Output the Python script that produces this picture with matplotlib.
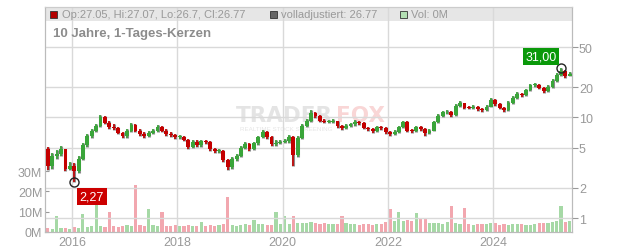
import numpy as np
import pandas as pd
import matplotlib
matplotlib.use("Agg")
import matplotlib.pyplot as plt
from matplotlib.patches import Rectangle

plt.rcParams["font.family"] = ["Liberation Sans", "DejaVu Sans"]

# monthly candles, Jul 2015 .. Jun 2025
first_open = 4.9
closes = [3.3, 4.1, 4.3, 4.8, 3.1, 3.3, 2.9, 3.9, 5.3, 6.5,
          7.3, 8.2, 10.0, 8.8, 8.0, 7.8, 7.0, 6.5, 7.3, 8.4,
          7.4, 6.8, 6.6, 7.0, 7.3, 8.0, 7.4, 6.8, 6.7, 6.4,
          6.4, 6.0, 5.1, 5.7, 5.3, 5.8, 5.7, 4.8, 4.6, 4.6,
          3.8, 3.2, 3.85, 4.1, 5.0, 5.4, 4.8, 5.5, 6.4, 7.2,
          6.4, 5.4, 5.6, 5.7, 5.8, 6.4, 4.2, 6.3, 8.2, 9.2,
          11.0, 10.3, 9.3, 9.0, 9.0, 9.2, 8.2, 7.8, 8.2, 8.5,
          9.0, 8.7, 7.9, 7.6, 7.3, 8.0, 7.8, 7.2, 6.9, 7.2,
          8.0, 9.0, 7.4, 7.3, 8.0, 7.6, 7.0, 7.4, 9.0, 10.3,
          11.2, 11.4, 10.5, 13.0, 13.8, 12.5, 12.4, 12.6, 12.0, 11.8,
          12.8, 15.0, 13.6, 12.5, 11.8, 14.0, 15.5, 17.0, 16.5, 18.5,
          20.8, 21.0, 19.8, 18.4, 20.0, 23.0, 26.5, 29.0, 26.0, 26.8]

highs = [5.1, 4.4, 4.7, 5.2, 4.9, 3.6, 3.5, 4.1, 5.5, 6.8,
         7.7, 8.6, 10.6, 10.3, 9.2, 8.5, 8.0, 7.2, 7.6, 8.8,
         8.6, 7.6, 7.1, 7.3, 7.6, 8.4, 8.2, 7.6, 7.1, 6.9,
         6.7, 6.6, 6.1, 5.9, 5.9, 6.0, 6.0, 5.8, 5.0, 4.9,
         4.7, 3.9, 4.0, 4.3, 5.2, 5.7, 5.6, 5.7, 6.6, 7.5,
         7.4, 6.5, 5.9, 6.0, 6.1, 6.7, 6.5, 6.5, 8.5, 9.6,
         11.7, 11.3, 10.5, 9.6, 9.4, 9.6, 9.3, 8.4, 8.5, 8.8,
         9.4, 9.3, 8.9, 8.1, 7.8, 8.3, 8.3, 8.0, 7.4, 7.5,
         8.3, 9.3, 9.1, 7.7, 8.3, 8.2, 7.8, 7.7, 9.3, 10.7,
         11.6, 11.9, 11.6, 13.5, 14.5, 14.0, 13.0, 13.2, 12.9, 12.4,
         13.3, 15.6, 15.2, 13.9, 12.8, 14.5, 16.2, 17.7, 17.5, 19.2,
         21.6, 22.0, 21.3, 20.1, 20.8, 23.8, 27.5, 31.0, 29.3, 28.2]

lows = [3.0, 3.1, 3.9, 4.1, 2.9, 3.0, 2.27, 2.8, 3.8, 5.1,
        6.3, 7.1, 8.0, 8.5, 7.7, 7.5, 6.8, 6.2, 6.3, 7.1,
        7.1, 6.6, 6.3, 6.4, 6.8, 7.1, 7.1, 6.5, 6.4, 6.1,
        6.1, 5.8, 4.9, 5.0, 5.1, 5.1, 5.4, 4.6, 4.4, 4.4,
        3.6, 3.0, 3.1, 3.7, 4.0, 4.8, 4.6, 4.7, 5.3, 6.2,
        6.1, 5.2, 5.2, 5.4, 5.5, 5.6, 3.3, 4.0, 6.1, 8.0,
        9.0, 9.9, 9.0, 8.7, 8.7, 8.8, 7.9, 7.5, 7.6, 8.0,
        8.3, 8.4, 7.6, 7.3, 7.0, 7.1, 7.5, 6.9, 6.6, 6.7,
        7.0, 7.8, 7.2, 7.0, 7.1, 7.3, 6.6, 6.8, 7.3, 8.8,
        10.0, 10.9, 10.1, 10.3, 12.7, 12.1, 12.0, 12.0, 11.6, 11.3,
        11.5, 12.6, 13.1, 12.1, 11.3, 11.6, 13.7, 15.2, 16.0, 16.2,
        18.2, 20.2, 19.1, 17.6, 18.0, 19.7, 22.6, 25.8, 24.5, 25.5]

# volume in millions per bar
volumes = [1.8, 1.5, 7.7, 1.8, 2.1, 1.6, 2.4, 2.2, 8.9, 2.6,
           2.9, 19.7, 3.2, 2.7, 10.0, 2.9, 2.6, 3.2, 3.4, 3.0,
           23.0, 3.6, 3.2, 11.3, 3.4, 3.1, 10.0, 2.9, 3.2, 3.6,
           3.0, 2.8, 3.4, 2.9, 3.2, 5.0, 3.1, 3.4, 3.0, 3.3,
           3.9, 17.2, 3.6, 3.2, 3.4, 3.7, 3.3, 6.0, 3.8, 4.0,
           3.6, 3.4, 10.0, 3.7, 7.8, 4.0, 7.7, 4.6, 4.4, 4.2,
           4.9, 4.5, 4.0, 4.3, 3.8, 4.1, 3.9, 7.7, 4.2, 3.7,
           4.0, 3.6, 3.9, 3.8, 3.4, 3.7, 4.1, 4.9, 11.3, 5.4,
           10.0, 5.2, 5.9, 5.6, 9.4, 6.9, 6.2, 4.6, 4.2, 4.4,
           4.0, 4.8, 13.0, 4.5, 4.1, 12.0, 3.9, 3.6, 4.0, 3.7,
           3.8, 4.2, 4.4, 3.6, 3.9, 3.5, 3.7, 4.0, 3.8, 3.4,
           3.6, 3.9, 4.2, 4.6, 4.4, 5.0, 5.4, 13.0, 4.9, 5.2]

price_ticks = [1, 2, 5, 10, 20, 50]
vol_ticks = [0, 10, 20, 30]
year_ticks = [2016, 2018, 2020, 2022, 2024]

low_idx, low_val = 6, 2.27
high_idx, high_val = 117, 31.00

dates = pd.date_range("2015-07-01", periods=len(closes), freq="MS") + pd.Timedelta(days=15)
opens = [first_open] + closes[:-1]
c = np.array(closes)
o = np.array(opens)
up = c >= o
candle_colors = np.where(up, "#3aa53a", "#c40000")

W, H = 632, 253
fig = plt.figure(figsize=(W / 100, H / 100), dpi=100)
ax_vol = fig.add_axes([45 / W, 20 / H, 527 / W, 225 / H])
ax = ax_vol.twinx()

grid_c = "#d9d9d9"
txt_c = "#999999"

# header band
ax_vol.add_patch(Rectangle((0, 1 - 14 / 225), 1, 14 / 225, transform=ax_vol.transAxes,
                           facecolor="#e6e6e6", edgecolor="none", zorder=0))

def px(x, y):
    return (x - 45) / 527, (233 - y) / 225

# watermark
ax_vol.text(*px(236, 122), "TRADER", transform=ax_vol.transAxes, fontsize=15.5,
            family="DejaVu Sans", fontweight="bold", color="#e4e4e4", va="baseline", zorder=0.5)
ax_vol.text(*px(336, 122), "FOX", transform=ax_vol.transAxes, fontsize=15.5,
            family="DejaVu Sans", fontweight="bold", color="#f9d6d6", va="baseline", zorder=0.5)
ax_vol.text(*px(240, 131), "REALTIME STOCK SCREENING", transform=ax_vol.transAxes,
            fontsize=4.5, color="#e6e6e6", va="baseline", zorder=0.5)

# volume
vol_colors = np.where(up, "#a6d9a6", "#f2a7af")
ax_vol.bar(dates, volumes, width=22, color=vol_colors, zorder=1)
ax_vol.set_ylim(0, 110.8)
ax_vol.set_yticks(vol_ticks)
ax_vol.set_yticklabels([f"{v}M" for v in vol_ticks])

# price grid
for yr in year_ticks:
    ax.axvline(pd.Timestamp(f"{yr}-01-01"), color=grid_c, lw=1, zorder=0)
for p in price_ticks:
    ax.axhline(p, color=grid_c, lw=1, zorder=0)

# candles
ax.vlines(dates, lows, highs, color="#8c8c8c", lw=2.2, zorder=2)
ax.vlines(dates, lows, highs, color=candle_colors, lw=1.2, zorder=2.5)
body_lo = np.minimum(o, c)
body_h = np.maximum(np.abs(c - o), body_lo * 0.02)
ax.bar(dates, body_h, bottom=body_lo, width=27, color=candle_colors, zorder=3)

ax.set_yscale("log")
ax.set_ylim(0.726, 124.9)
ax.set_yticks(price_ticks)
ax.set_yticklabels([str(p) for p in price_ticks])
ax.yaxis.set_minor_locator(matplotlib.ticker.NullLocator())

ax_vol.set_xlim(pd.Timestamp("2015-06-27"), pd.Timestamp("2025-07-01"))
ax_vol.set_xticks([pd.Timestamp(f"{yr}-01-01") for yr in year_ticks])
ax_vol.set_xticklabels([str(yr) for yr in year_ticks])

# markers
ax.plot(dates[low_idx], low_val, "o", ms=6.5, mfc="none", mec="#222222", mew=1, zorder=5)
ax.plot(dates[high_idx], high_val, "o", ms=6.5, mfc="none", mec="#222222", mew=1, zorder=5)
ax.annotate("2,27", xy=(dates[low_idx], low_val), xytext=(5.5, -8.5),
            textcoords="offset pixels", ha="left", va="top", color="white", fontsize=9,
            bbox=dict(boxstyle="square,pad=0.2", fc="#cc0000", ec="none"), zorder=6)
ax.annotate("31,00", xy=(dates[high_idx], high_val), xytext=(-4.5, 5.5),
            textcoords="offset pixels", ha="right", va="bottom", color="white", fontsize=9,
            bbox=dict(boxstyle="square,pad=0.2", fc="#0a990a", ec="none"), zorder=6)

# axes styling
for a in (ax, ax_vol):
    for s in a.spines.values():
        s.set_color("#bbbbbb")
    a.spines["top"].set_color("#cccccc")
ax_vol.tick_params(axis="y", colors=txt_c, labelsize=9, length=3, direction="in", pad=2)
ax_vol.tick_params(axis="x", colors=txt_c, labelsize=9, length=0, pad=3)
ax.tick_params(axis="y", colors=txt_c, labelsize=9, length=4, pad=1)

# header texts
def fig_px(x, y):
    return x / W, 1 - y / H

fig.patches.append(Rectangle(fig_px(50, 19), 7 / W, 7 / H, transform=fig.transFigure,
                             facecolor="#b30000", edgecolor="#333333", lw=0.6, zorder=5))
fig.text(*fig_px(62, 15.5), "Op:27.05, Hi:27.07, Lo:26.7, Cl:26.77", fontsize=8,
         color=txt_c, va="center")
fig.patches.append(Rectangle(fig_px(270, 19), 7 / W, 7 / H, transform=fig.transFigure,
                             facecolor="#666666", edgecolor="#333333", lw=0.6, zorder=5))
fig.text(*fig_px(281, 15.5), "volladjustiert: 26.77", fontsize=8, color=txt_c, va="center")
fig.patches.append(Rectangle(fig_px(400, 19), 7 / W, 7 / H, transform=fig.transFigure,
                             facecolor="#b3dfb3", edgecolor="#333333", lw=0.6, zorder=5))
fig.text(*fig_px(411, 15.5), "Vol: 0M", fontsize=8, color=txt_c, va="center")
fig.text(*fig_px(53, 34), "10 Jahre, 1-Tages-Kerzen", fontsize=9.5, fontweight="bold",
         color="#8c8c8c", va="center")

fig.savefig("out.png", dpi=100)
